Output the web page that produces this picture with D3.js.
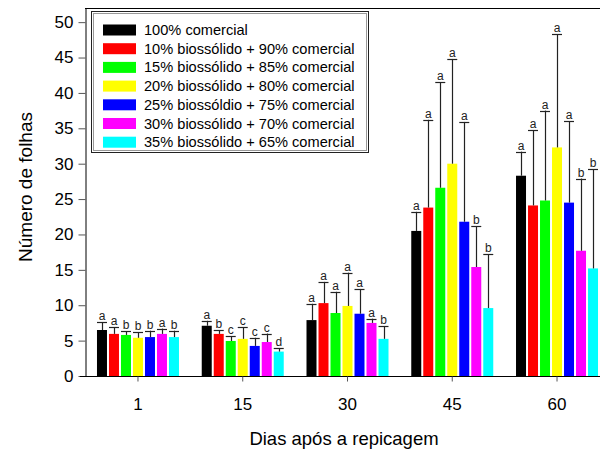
<!DOCTYPE html>
<html>
<head>
<meta charset="utf-8">
<script src="https://cdn.jsdelivr.net/npm/d3@7"></script>
<style>
  body { margin: 0; background: #fff; }
  svg { font-family: "Liberation Sans", Arial, Helvetica, sans-serif; }
</style>
</head>
<body>
<script>
// data
const days = ["1", "15", "30", "45", "60"];
const treatments = [
    "100% comercial",
    "10% biossólido + 90% comercial",
    "15% biossólido + 85% comercial",
    "20% biossólido + 80% comercial",
    "25% biossóldio + 75% comercial",
    "30% biossólido + 70% comercial",
    "35% biossólido + 65% comercial"
];
const colors = ["#000000", "#ff0000", "#00ff00", "#ffff00", "#0000ff", "#ff00ff", "#00ffff"];

// means per treatment, one value per day
const means = [
    [6.5, 7.1, 7.9, 20.5, 28.3],
    [5.95, 5.95, 10.3, 23.8, 24.1],
    [5.8, 4.95, 8.9, 26.6, 24.8],
    [5.4, 5.25, 9.9, 30.0, 32.3],
    [5.5, 4.25, 8.8, 21.8, 24.5],
    [5.95, 4.8, 7.5, 15.4, 17.7],
    [5.5, 3.45, 5.25, 9.6, 15.2]
];
// top of error bar (mean + sd)
const errTop = [
    [7.6, 7.8, 10.2, 23.2, 31.7],
    [6.9, 6.5, 13.3, 36.2, 34.7],
    [6.3, 5.6, 11.9, 41.5, 37.5],
    [6.2, 6.9, 14.6, 44.8, 48.3],
    [6.4, 5.4, 12.3, 35.9, 36.0],
    [6.7, 6.0, 8.1, 21.2, 27.9],
    [6.4, 3.9, 7.0, 17.2, 29.2]
];
const letters = [
    ["a", "a", "a", "a", "a"],
    ["a", "b", "a", "a", "a"],
    ["b", "c", "a", "a", "a"],
    ["b", "c", "a", "a", "a"],
    ["b", "c", "a", "a", "a"],
    ["a", "c", "a", "b", "b"],
    ["b", "d", "b", "b", "b"]
];
const yTicks = [0, 5, 10, 15, 20, 25, 30, 35, 40, 45, 50];

const width = 600, height = 450;
const svg = d3.select("body").append("svg")
    .attr("width", width)
    .attr("height", height);

// scales
const x = d3.scaleBand().domain(days).range([85.6, 609.4]);
const xInner = d3.scaleBand().domain(d3.range(treatments.length))
    .range([-42, 42]).paddingInner(2 / 12).paddingOuter(1 / 12);
const y = d3.scaleLinear().domain([0, 52]).range([376, 8]);

// flatten
let cells = [];
treatments.forEach((t, i) => {
    days.forEach((d, j) => {
        cells.push({ i: i, day: d, mean: means[i][j], top: errTop[i][j], letter: letters[i][j] });
    });
});
const cx = d => x(d.day) + x.bandwidth() / 2 + xInner(d.i);

// bars
svg.append("g").selectAll("rect")
    .data(cells)
    .enter()
    .append("rect")
    .attr("x", d => cx(d))
    .attr("y", d => y(d.mean))
    .attr("width", xInner.bandwidth())
    .attr("height", d => y(0) - y(d.mean))
    .attr("fill", d => colors[d.i]);

// error bars (upper only)
const err = svg.append("g").attr("stroke", "#222").attr("stroke-width", 1.2);
err.selectAll("line.v")
    .data(cells)
    .enter()
    .append("line")
    .attr("x1", d => Math.round(cx(d) + xInner.bandwidth() / 2) + 0.5)
    .attr("x2", d => Math.round(cx(d) + xInner.bandwidth() / 2) + 0.5)
    .attr("y1", d => y(d.mean))
    .attr("y2", d => y(d.top));
err.selectAll("line.cap")
    .data(cells)
    .enter()
    .append("line")
    .attr("x1", d => cx(d))
    .attr("x2", d => cx(d) + xInner.bandwidth())
    .attr("y1", d => Math.round(y(d.top)) + 0.5)
    .attr("y2", d => Math.round(y(d.top)) + 0.5);

// significance letters
svg.append("g").selectAll("text")
    .data(cells)
    .enter()
    .append("text")
    .attr("x", d => cx(d) + xInner.bandwidth() / 2)
    .attr("y", d => y(d.top) - 2)
    .attr("text-anchor", "middle")
    .attr("font-size", 12)
    .attr("fill", "#222")
    .text(d => d.letter);

// axes
const yAxis = d3.axisLeft(y).tickValues(yTicks).tickSize(7).tickPadding(5).tickSizeOuter(0);
const gy = svg.append("g").attr("transform", "translate(85.5,0)").call(yAxis);
gy.selectAll("text").attr("font-size", 17).attr("fill", "#000");

const xAxis = d3.axisBottom(x).tickSize(5).tickPadding(16).tickSizeOuter(0);
const gx = svg.append("g").attr("transform", "translate(0,376.5)").call(xAxis);
gx.select(".domain").attr("d", "M80,0H600");
gx.selectAll("text").attr("font-size", 17).attr("fill", "#000");
gx.selectAll(".tick line").attr("stroke", "#555");
gy.selectAll(".tick line").attr("stroke", "#555");

// top frame line
svg.append("line")
    .attr("x1", 85).attr("x2", 600)
    .attr("y1", 8.5).attr("y2", 8.5)
    .attr("stroke", "#000");

// axis titles
svg.append("text")
    .attr("x", 344)
    .attr("y", 445)
    .attr("text-anchor", "middle")
    .attr("font-size", 18.5)
    .text("Dias após a repicagem");
svg.append("text")
    .attr("transform", "translate(32,187) rotate(-90)")
    .attr("text-anchor", "middle")
    .attr("font-size", 19)
    .text("Número de folhas");

// legend
const legend = svg.append("g");
legend.append("rect")
    .attr("x", 91.5).attr("y", 11.5)
    .attr("width", 277).attr("height", 141)
    .attr("fill", "#fff").attr("stroke", "#222");
legend.append("rect")
    .attr("x", 93.5).attr("y", 13.5)
    .attr("width", 273).attr("height", 137)
    .attr("fill", "none").attr("stroke", "#999");
const items = legend.selectAll("g.item")
    .data(treatments)
    .enter()
    .append("g")
    .attr("transform", (d, i) => `translate(103, ${30 + i * 18.7})`);
items.append("rect")
    .attr("x", 0).attr("y", -5.5)
    .attr("width", 33).attr("height", 11)
    .attr("fill", (d, i) => colors[i]);
items.append("text")
    .attr("x", 41).attr("y", 5)
    .attr("font-size", 14.6)
    .text(d => d);
</script>
</body>
</html>
